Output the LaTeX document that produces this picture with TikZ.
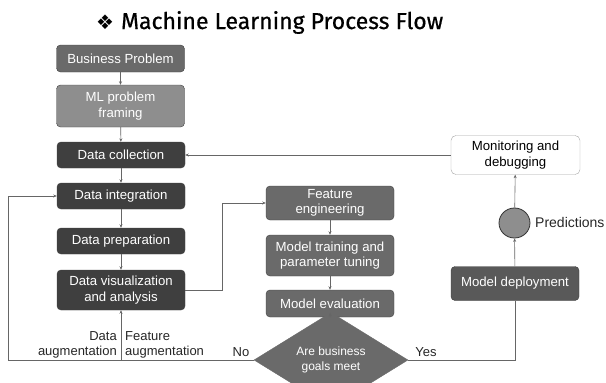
\documentclass[tikz,border=0pt]{standalone}
\usepackage{fontspec}
\setmainfont{Liberation Sans}
\newfontfamily\titlefont{Fira Sans}[FakeBold=0.6]
\newfontfamily\symfont{DejaVu Sans}
\usetikzlibrary{shapes.geometric,arrows.meta}

\definecolor{darkbox}{HTML}{3F3F3F}
\definecolor{midbox}{HTML}{6A6A6A}
\definecolor{lightbox}{HTML}{8E8E8E}
\definecolor{deploybox}{HTML}{595959}
\definecolor{linegray}{HTML}{666666}

\tikzset{
  proc/.style={draw=black!75, fill=#1, text=white, rounded corners=4pt,
    minimum width=128pt, align=center, inner sep=2pt,
    font=\fontsize{13.2}{15.5}\selectfont},
  monbox/.style={draw=black!35, fill=white, text=black, rounded corners=5pt,
    minimum width=129pt, minimum height=39pt, align=center, inner sep=2pt,
    font=\fontsize{13.2}{15.5}\selectfont},
  decision/.style={diamond, draw=midbox, fill=midbox, text=white,
    minimum width=154pt, minimum height=54pt, inner sep=0pt, align=center,
    font=\fontsize{12}{14.5}\selectfont},
  predict/.style={ellipse, draw=black!80, fill=lightbox, minimum width=31pt,
    minimum height=30pt, inner sep=0pt, line width=0.8pt},
  link/.style={draw=linegray, line width=0.6pt},
  arr/.style={link, -{Stealth[length=3.5pt,width=3pt]}},
  lbl/.style={font=\fontsize{13}{14.5}\selectfont, text=black!85, inner sep=0pt}
}

\begin{document}
\begin{tikzpicture}[x=1pt,y=-1pt]
\useasboundingbox (0,0) rectangle (606,383);
\clip (0,0) rectangle (606,383);

% title
\node[anchor=base west, inner sep=0pt] (title) at (96,29)
  {{\symfont\fontsize{20}{22}\selectfont ❖}\hspace{7pt}{\titlefont\fontsize{23}{26}\selectfont Machine Learning Process Flow}};

% left column: data pipeline
\node[proc=midbox,   minimum height=27pt] (bp) at (120.5,58.5) {Business Problem};
\node[proc=lightbox, minimum height=42pt] (ml) at (120.5,106) {ML problem\\framing};
\node[proc=darkbox,  minimum height=26pt] (dc) at (121,155) {Data collection};
\node[proc=darkbox,  minimum height=26pt] (di) at (121,196) {Data integration};
\node[proc=darkbox,  minimum height=26pt] (dp) at (121,241) {Data preparation};
\node[proc=darkbox,  minimum height=40pt] (dv) at (121,290) {Data visualization\\and analysis};

% middle column: modelling
\node[proc=midbox, minimum height=34pt] (fe) at (330,203) {Feature\\engineering};
\node[proc=midbox, minimum height=41pt] (mt) at (330,255.5) {Model training and\\parameter tuning};
\node[proc=midbox, minimum height=27pt] (me) at (330,303.5) {Model evaluation};
\node[decision] (dec) at (331,360) {Are business\\goals meet};

% right column: deployment
\node[proc=deploybox, minimum height=34pt] (md) at (515,283.5) {Model deployment};
\node[predict] (pr) at (514.5,223) {};
\node[monbox] (mon) at (515.5,155) {Monitoring and\\debugging};

% connectors
\draw[arr] (bp) -- (ml);
\draw[arr] (ml) -- (dc);
\draw[arr] (dc) -- (di);
\draw[arr] (di) -- (dp);
\draw[arr] (dp) -- (dv);
\draw[arr] (mon) -- (dc);
\draw[arr] (dv.east) -- ++(37,0) |- (fe.west);
\draw[arr] (fe) -- (mt);
\draw[arr] (mt) -- (me);
\draw[arr] (me) -- (dec);
\draw[link] (dec.east) -| (md.south);
\draw[arr] (md) -- (pr);
\draw[arr] (pr) -- (mon);

\coordinate (loopcorner) at (8,360);
\coordinate (featjoin) at (121,360);
\draw[arr] (dec.west) -- (loopcorner) |- (di.west);
\draw[arr] (featjoin) -- (dv.south);

% labels
\node[lbl, anchor=east, align=right] (daug) at (117,345) {Data\\augmentation};
\node[lbl, anchor=west, align=left] (faug) at (125,345) {Feature\\augmentation};
\node[lbl] (no) at (241,352) {No};
\node[lbl] (yes) at (426,352) {Yes};
\node[lbl, anchor=west, font=\fontsize{14}{16}\selectfont] (predlbl) at (535,222) {Predictions};
\end{tikzpicture}
\end{document}
